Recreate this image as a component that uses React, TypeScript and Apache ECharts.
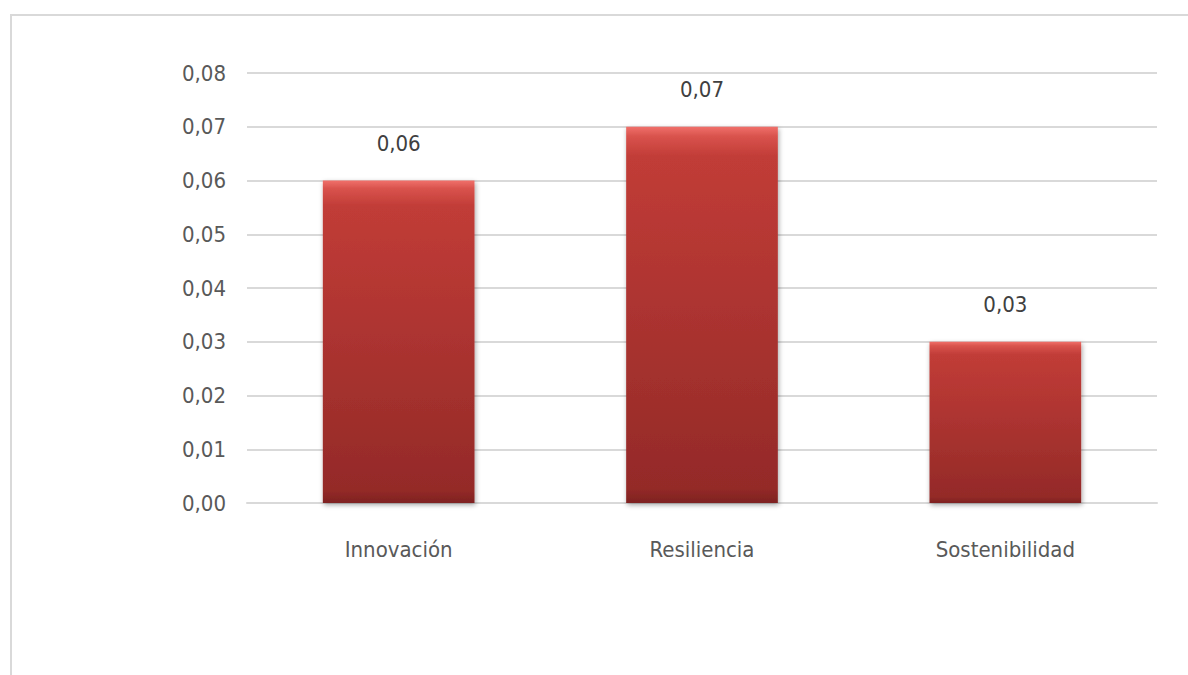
import React, { useEffect, useRef } from "react";
import * as echarts from "echarts";

const categories = ["Innovación", "Resiliencia", "Sostenibilidad"];
const values = [0.06, 0.07, 0.03];
const yTicks = { min: 0, max: 0.08, interval: 0.01 };

const FONT = "'DejaVu Sans Condensed', 'Liberation Sans Narrow', 'Open Sans', sans-serif";

export default function App() {
  const ref = useRef<HTMLDivElement>(null);
  useEffect(() => {
    const chart = echarts.init(ref.current!, undefined, { renderer: "svg" });
    const fmt = (v: number) => v.toFixed(2).replace(".", ",");
    chart.setOption({
      animation: false,
      backgroundColor: "#ffffff",
      graphic: [
        {
          type: "rect",
          shape: { x: 11, y: 15, width: 1200, height: 700 },
          style: { fill: "none", stroke: "#d9d9d9", lineWidth: 2 },
          silent: true,
        },
      ],
      grid: { left: 247, right: 31, top: 73, bottom: 172 },
      xAxis: {
        type: "category",
        data: categories,
        axisLine: { show: true, lineStyle: { color: "#d9d9d9", width: 2 } },
        axisTick: { show: false },
        axisLabel: { color: "#595959", fontSize: 22, fontFamily: FONT, margin: 35 },
      },
      yAxis: {
        type: "value",
        min: yTicks.min,
        max: yTicks.max,
        interval: yTicks.interval,
        axisLine: { show: false },
        axisTick: { show: false },
        splitLine: { lineStyle: { color: "#d9d9d9", width: 2 } },
        axisLabel: {
          color: "#595959",
          fontSize: 22,
          fontFamily: FONT,
          margin: 21,
          formatter: (v: number) => fmt(v),
        },
      },
      series: [
        {
          type: "bar",
          data: values,
          barWidth: "50%",
          itemStyle: {
            color: new echarts.graphic.LinearGradient(0, 0, 0, 1, [
              { offset: 0, color: "#f0706a" },
              { offset: 0.025, color: "#d9534d" },
              { offset: 0.08, color: "#c13c37" },
              { offset: 0.96, color: "#942a28" },
              { offset: 1, color: "#7e2220" },
            ]),
            shadowColor: "rgba(0,0,0,0.35)",
            shadowBlur: 5,
            shadowOffsetX: 1,
            shadowOffsetY: 2,
          },
          label: {
            show: true,
            position: "top",
            distance: 26,
            color: "#404040",
            fontSize: 22,
            fontFamily: FONT,
            formatter: (p: any) => fmt(p.value),
          },
        },
      ],
    });
    return () => chart.dispose();
  }, []);
  return (
    <div
      ref={ref}
      style={{ position: "fixed", left: 0, top: 0, width: 1188, height: 675 }}
    />
  );
}
